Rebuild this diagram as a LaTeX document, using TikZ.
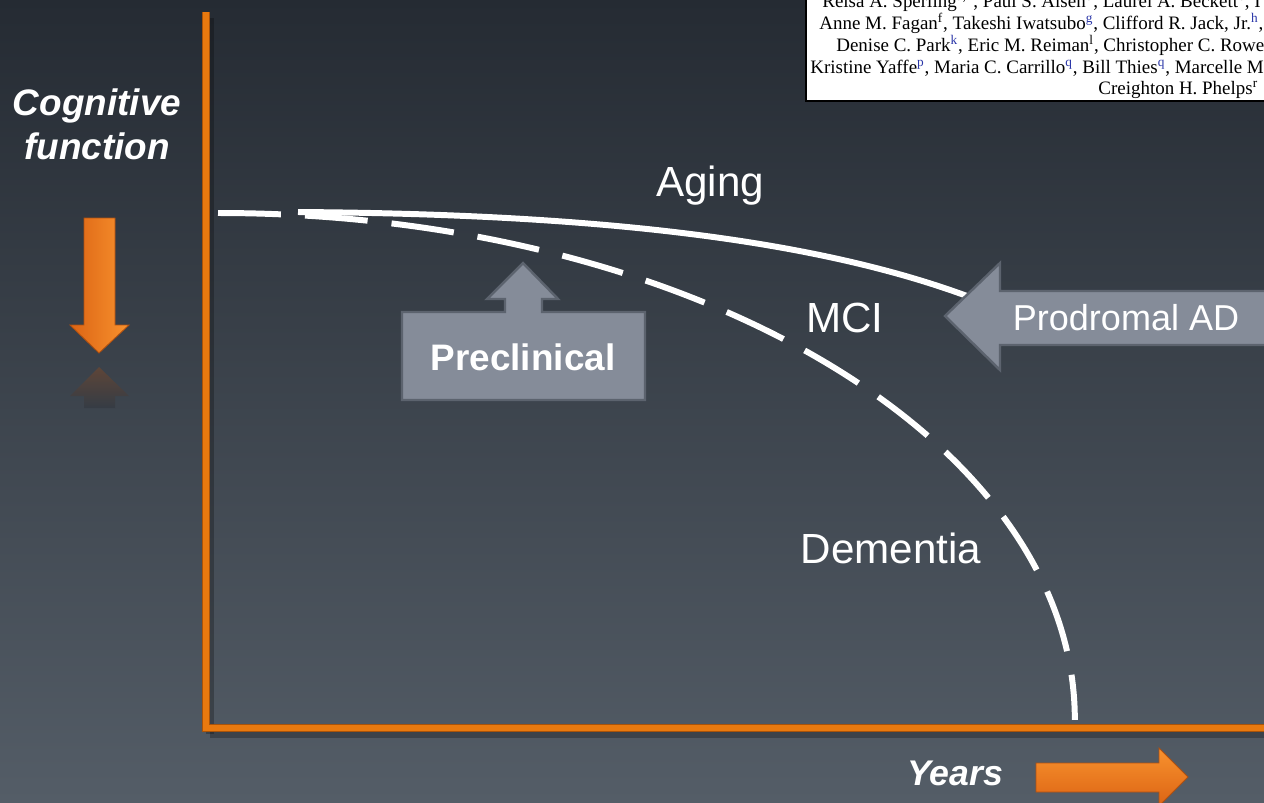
\documentclass[tikz,border=0pt]{standalone}
\usepackage{fontspec}
\setmainfont{Liberation Sans}
\newfontfamily\timesf{Liberation Serif}
\usetikzlibrary{calc}
\definecolor{bgtop}{HTML}{252B33}
\definecolor{bgbot}{HTML}{545D67}
\definecolor{axorange}{HTML}{E8790F}
\definecolor{axdark}{HTML}{A8530A}
\definecolor{boxfill}{HTML}{858C99}
\definecolor{boxedge}{HTML}{5C636E}
\definecolor{arrlight}{HTML}{F8922E}
\definecolor{arrdark}{HTML}{DC6414}
\definecolor{refblue}{HTML}{2A36A8}
\begin{document}
\begin{tikzpicture}[x=0.02cm,y=-0.02cm,
  lbl/.style={text=white, font=\fontsize{24}{28}\selectfont, inner sep=0},
  bilbl/.style={text=white, font=\fontsize{21}{25}\selectfont\bfseries\itshape, inner sep=0, align=center},
  stage/.style={fill=boxfill, draw=boxedge, line width=1.4pt, line join=miter},
  curve/.style={white, line width=3.4pt},
  dashcurve/.style={curve, dash pattern=on 35.8pt off 13.7pt},
  axisline/.style={line width=3.6pt, draw=axorange},
  axisedge/.style={line width=4.6pt, draw=axdark},
  axshadow/.style={line width=5pt, draw=black, opacity=0.25},
  refline/.style={anchor=base west, inner sep=0, font=\timesf\fontsize{10.8}{12}\selectfont, text=black},
  orangearrow/.style={draw=arrdark!80!black, line width=0.5pt}
]
\useasboundingbox (0,0) rectangle (1264,802);
% background
\shade[top color=bgtop, bottom color=bgbot] (0,0) rectangle (1264,802);

% reference box (clipped at top and right)
\begin{scope}
  \clip (0,0) rectangle (1264,802);
  \fill[white] (806,-10) rectangle (1270,101);
  \draw[black, line width=1.3pt] (806,-10) -- (806,101) -- (1270,101);
  \node[refline] (r1) at (822,7) {Reisa A. Sperling\textsuperscript{a,*}, Paul S. Aisen\textsuperscript{b}, Laurel A. Beckett\textsuperscript{c}, I};
  \node[refline] (r2) at (819,29) {Anne M. Fagan\textsuperscript{f}, Takeshi Iwatsubo{\color{refblue}\textsuperscript{g}}, Clifford R. Jack, Jr.{\color{refblue}\textsuperscript{h}},};
  \node[refline] (r3) at (836,51) {Denise C. Park{\color{refblue}\textsuperscript{k}}, Eric M. Reiman\textsuperscript{l}, Christopher C. Rowe};
  \node[refline] (r4) at (810,73) {Kristine Yaffe{\color{refblue}\textsuperscript{p}}, Maria C. Carrillo{\color{refblue}\textsuperscript{q}}, Bill Thies{\color{refblue}\textsuperscript{q}}, Marcelle Mo};
  \node[refline] (r5) at (1098,94) {Creighton H. Phelps\textsuperscript{r}};
\end{scope}

% axes
\coordinate (ytop) at (206,12);
\coordinate (origin) at (206,728);
\coordinate (xend) at (1266,728);
\draw[axshadow] ($(origin)+(4,6)$) -- ($(xend)+(4,6)$);
\draw[axshadow] ($(ytop)+(4,6)$) -- ($(origin)+(4,6)$);
\draw[axisedge] (ytop) -- (origin) -- (xend);
\draw[axisline] (ytop) -- (origin) -- (xend);

% curves
\coordinate (start) at (218,213);
\coordinate (agestart) at (298,212);
\coordinate (ageend) at (975,299);
\draw[dashcurve] (start) arc[start angle=90, end angle=0, x radius=17.14cm, y radius=10.14cm];
\draw[curve] (agestart) .. controls (600,214) and (820,240) .. (ageend);

% Preclinical up-arrow box
\draw[stage] (402,312) -- (505,312) -- (505,299) -- (487,299) -- (523,263) -- (558,299) -- (542,299) -- (542,312) -- (645,312) -- (645,400) -- (402,400) -- cycle;
\node[text=white, font=\fontsize{21}{25}\selectfont\bfseries, inner sep=0] (precl) at (523,357) {Preclinical};

% Prodromal AD left arrow
\draw[stage] (945,316) -- (1000,263) -- (1000,291) -- (1270,291) -- (1270,345) -- (1000,345) -- (1000,370) -- cycle;
\node[lbl, font=\fontsize{20.5}{24}\selectfont] (prod) at (1126,318) {Prodromal AD};

% stage labels
\node[lbl] (aging) at (710,186) {Aging};
\node[lbl] (mci) at (845,318) {MCI};
\node[lbl] (dem) at (891,548) {Dementia};

% axis labels
\node[bilbl] (cog) at (97,124) {Cognitive\\function};
\node[bilbl, font=\fontsize{20.3}{24}\selectfont\bfseries\itshape] (years) at (955,773) {Years};

% down arrow (cognitive decline) with faint reflection
\shade[top color=arrdark!55!bgtop, bottom color=bgtop!85!bgbot, opacity=0.45] (99,367) -- (129,396) -- (115,396) -- (115,408) -- (84,408) -- (84,396) -- (70,396) -- cycle;
\shade[orangearrow, left color=arrdark, right color=arrlight] (84,218) -- (115,218) -- (115,325) -- (129,325) -- (99,353) -- (70,325) -- (84,325) -- cycle;

% years arrow
\shade[orangearrow, top color=arrlight, bottom color=arrdark] (1036,763) -- (1159,763) -- (1159,748) -- (1188,777) -- (1159,806) -- (1159,792) -- (1036,792) -- cycle;
\end{tikzpicture}
\end{document}
